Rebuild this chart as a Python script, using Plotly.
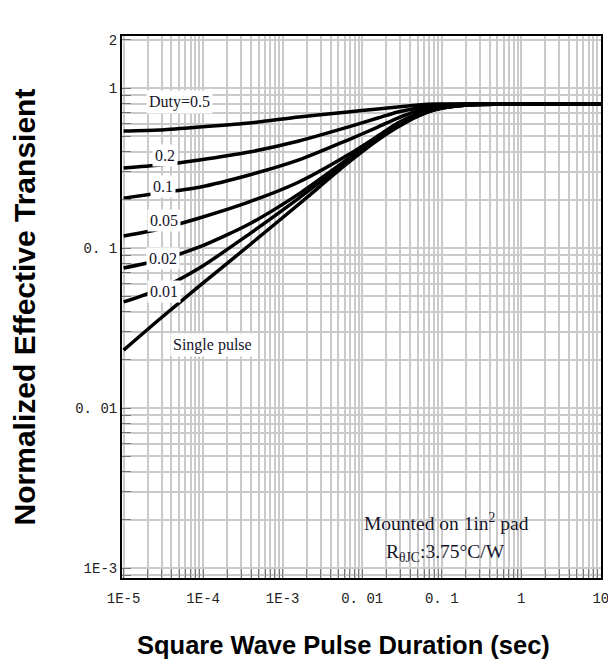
import plotly.graph_objects as go

# Pulse duration (s)
t = [1e-5, 2.85e-5, 9e-5, 3.8e-4, 1.6e-3, 6.6e-3, 0.0157, 0.028, 0.05, 0.088, 0.21, 0.88, 10]

# Normalized effective transient thermal impedance per duty cycle
duty_05 = [0.538, 0.546, 0.570, 0.604, 0.659, 0.708, 0.739, 0.761, 0.783, 0.794, 0.794, 0.794, 0.794]
duty_02 = [0.316, 0.330, 0.355, 0.398, 0.4665, 0.570, 0.649, 0.708, 0.750, 0.783, 0.794, 0.794, 0.794]
duty_01 = [0.205, 0.221, 0.240, 0.286, 0.355, 0.473, 0.570, 0.649, 0.718, 0.761, 0.794, 0.794, 0.794]
duty_005 = [0.119, 0.1315, 0.154, 0.194, 0.2585, 0.381, 0.501, 0.604, 0.688, 0.750, 0.783, 0.794, 0.794]
duty_002 = [0.0750, 0.0841, 0.1015, 0.1413, 0.218, 0.360, 0.487, 0.587, 0.678, 0.739, 0.783, 0.794, 0.794]
duty_001 = [0.0460, 0.0554, 0.0750, 0.1222, 0.205, 0.350, 0.480, 0.579, 0.668, 0.739, 0.783, 0.794, 0.794]
single = [0.0230, 0.0360, 0.0579, 0.104, 0.188, 0.340, 0.473, 0.570, 0.668, 0.739, 0.783, 0.794, 0.794]

series_names = ["Duty=0.5", "0.2", "0.1", "0.05", "0.02", "0.01", "Single pulse"]
series_vals = [duty_05, duty_02, duty_01, duty_005, duty_002, duty_001, single]

x_tickvals = [1e-5, 1e-4, 1e-3, 1e-2, 1e-1, 1, 10]
x_ticktext = ["1E-5", "1E-4", "1E-3", "0. 01", "0. 1", "1", "10"]
y_tickvals = [1e-3, 1e-2, 1e-1, 1, 2]
y_ticktext = ["1E-3", "0. 01", "0. 1", "1", "2"]

fig = go.Figure()
for name, vals in zip(series_names, series_vals):
    fig.add_trace(go.Scatter(
        x=t, y=vals, mode="lines", name=name,
        line=dict(color="black", width=3.5, shape="spline", smoothing=0.7),
        showlegend=False, hoverinfo="skip",
    ))

# curve labels (paper coordinates)
label_pos = [
    ("Duty=0.5", 0.121, 0.878),
    ("0.2", 0.090, 0.780),
    ("0.1", 0.086, 0.723),
    ("0.05", 0.088, 0.659),
    ("0.02", 0.086, 0.590),
    ("0.01", 0.088, 0.528),
    ("Single pulse", 0.188, 0.430),
]
for txt, xp, yp in label_pos:
    fig.add_annotation(
        text=txt, x=xp, y=yp, xref="paper", yref="paper",
        xanchor="center", yanchor="middle",
        showarrow=False, bgcolor="white", borderpad=2,
        font=dict(family="Liberation Serif", size=16, color="#15152a"),
    )

# note box bottom-right
fig.add_shape(type="rect", xref="paper", yref="paper",
              x0=0.447, x1=0.914, y0=0.0, y1=0.148,
              fillcolor="white", line=dict(width=0), layer="between")
fig.add_annotation(text="Mounted on 1in<sup>2</sup> pad", x=0.678, y=0.103,
                   xref="paper", yref="paper", showarrow=False,
                   xanchor="center", yanchor="middle",
                   font=dict(family="Liberation Serif", size=19.5, color="#15152a"))
fig.add_annotation(text="R<sub>θJC</sub>:3.75°C/W", x=0.676, y=0.046,
                   xref="paper", yref="paper", showarrow=False,
                   xanchor="center", yanchor="middle",
                   font=dict(family="Liberation Serif", size=19.5, color="#15152a"))

# x-axis title (placed as text so it can sit left of the plot centre, as in the original)
fig.add_annotation(text="<b>Square Wave Pulse Duration (sec)</b>", x=0.463, y=-0.1236,
                   xref="paper", yref="paper", showarrow=False,
                   xanchor="center", yanchor="middle",
                   font=dict(family="Liberation Sans", size=25.5, color="black"))

grid_col = "#cacaca"
fig.update_xaxes(
    type="log", range=[-5.02, 1.002],
    tickmode="array", tickvals=x_tickvals, ticktext=x_ticktext,
    tickfont=dict(family="Liberation Mono", size=14, color="#222"),
    ticklabelstandoff=6,
    showgrid=True, gridcolor=grid_col, gridwidth=1.5,
    ticks="inside", ticklen=9, tickcolor="#777",
    minor=dict(dtick="D1", showgrid=True, gridcolor=grid_col, gridwidth=1.5,
               ticks="inside", ticklen=9, tickcolor="#777"),
    showline=True, linecolor="black", linewidth=2, mirror=True,
)
fig.update_yaxes(
    type="log", range=[-3.0625, 0.325],
    tickmode="array", tickvals=y_tickvals, ticktext=y_ticktext,
    tickfont=dict(family="Liberation Mono", size=14, color="#222"),
    showgrid=True, gridcolor=grid_col, gridwidth=1.5,
    ticks="inside", ticklen=9, tickcolor="#777",
    minor=dict(dtick="D1", showgrid=True, gridcolor=grid_col, gridwidth=1.5,
               ticks="inside", ticklen=9, tickcolor="#777"),
    showline=True, linecolor="black", linewidth=2, mirror=True,
    title=dict(text="Normalized Effective Transient", standoff=38,
               font=dict(family="Liberation Sans", size=30, color="black", weight="bold")),
)

# the page adds an 8px body margin, so the figure is sized to fit inside it
fig.update_layout(
    width=608, height=653,
    margin=dict(l=114, r=15, t=28, b=83, autoexpand=False),
    paper_bgcolor="white", plot_bgcolor="white",
)

fig.write_html("out.html")
